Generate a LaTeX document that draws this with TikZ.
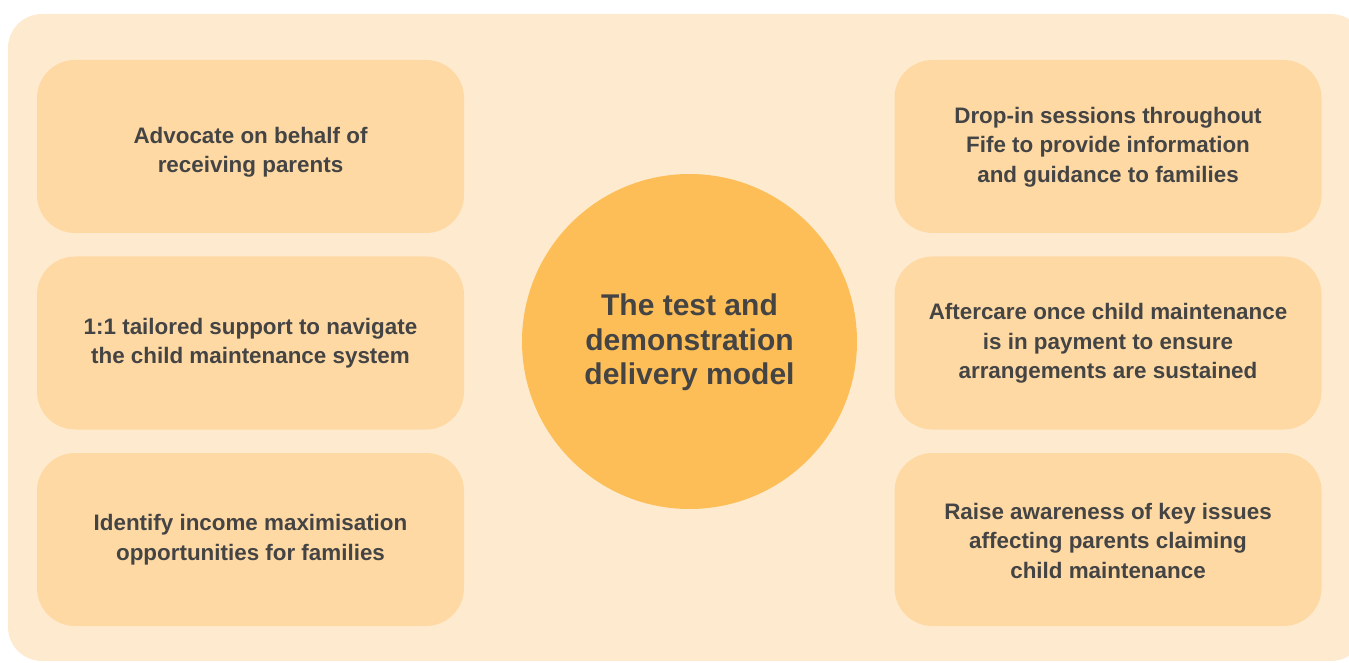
\documentclass[tikz,border=0pt]{standalone}
\usepackage{fontspec}
\setmainfont{Liberation Sans}
\definecolor{panelbg}{HTML}{FEEBCF}
\definecolor{boxbg}{HTML}{FED9A4}
\definecolor{hubbg}{HTML}{FDBE57}
\definecolor{ink}{HTML}{444444}
\begin{document}
\begin{tikzpicture}[x=0.5pt,y=-0.5pt,
  item/.style={fill=boxbg, rounded corners=19pt, minimum width=213.5pt, minimum height=86.5pt,
    align=center, text=ink, font=\bfseries\fontsize{11.2}{14.75}\selectfont, inner sep=0pt},
  itemtext/.style={align=center, text=ink, font=\bfseries\fontsize{11.2}{14.75}\selectfont, inner sep=0pt},
  hub/.style={circle, fill=hubbg, minimum size=167.5pt, inner sep=0pt},
  hubtext/.style={align=center, text=ink, font=\bfseries\fontsize{15}{17.25}\selectfont, inner sep=0pt}]
\useasboundingbox (0,0) rectangle (1349,663);
% outer panel
\fill[panelbg, rounded corners=17pt] (8,14) rectangle (1365,661);
% left column
\node[item] (l1) at (250.5,146.5) {};
\node[item] (l2) at (250.5,343) {};
\node[item] (l3) at (250.5,539.5) {};
\node[itemtext] at ([yshift=-3pt]l1.center) {Advocate on behalf of\\receiving parents};
\node[itemtext] at ([yshift=0pt]l2.center) {1:1 tailored support to navigate\\the child maintenance system};
\node[itemtext] at ([yshift=0pt]l3.center) {Identify income maximisation\\opportunities for families};
% right column
\node[item] (r1) at (1108,146.5) {};
\node[item] (r2) at (1108,343) {};
\node[item] (r3) at (1108,539.5) {};
\node[itemtext] at ([yshift=-0.25pt]r1.center) {Drop-in sessions throughout\\Fife to provide information\\and guidance to families};
\node[itemtext] at ([yshift=-0.25pt]r2.center) {Aftercare once child maintenance\\is in payment to ensure\\arrangements are sustained};
\node[itemtext] at ([yshift=-0.5pt]r3.center) {Raise awareness of key issues\\affecting parents claiming\\child maintenance};
% central hub
\node[hub] (hub) at (689.5,341.5) {};
\node[hubtext] at ([yshift=-0.5pt]hub.center) {The test and\\demonstration\\delivery model};
\end{tikzpicture}
\end{document}
